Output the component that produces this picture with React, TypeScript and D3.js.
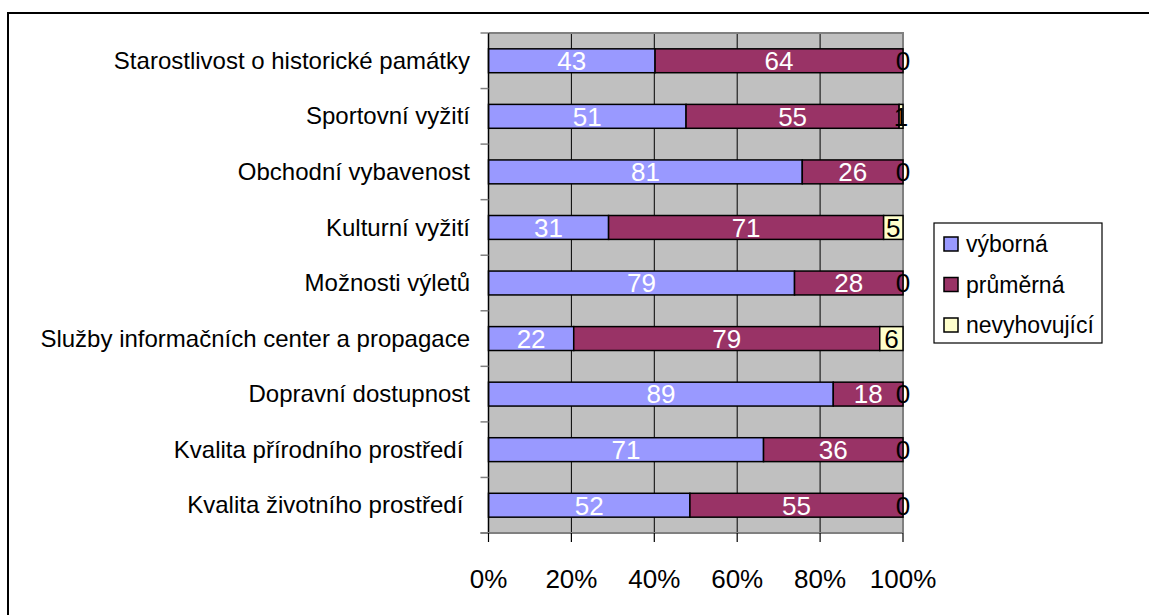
import React, { useEffect, useRef } from 'react'
import * as d3 from 'd3'

const categories = [
  'Starostlivost o historické památky',
  'Sportovní vyžití',
  'Obchodní vybavenost',
  'Kulturní vyžití',
  'Možnosti výletů',
  'Služby informačních center a propagace',
  'Dopravní dostupnost',
  'Kvalita přírodního prostředí ',
  'Kvalita životního prostředí ',
]
const seriesNames = ['výborná', 'průměrná', 'nevyhovující']
const vyborna = [43, 51, 81, 31, 79, 22, 89, 71, 52]
const prumerna = [64, 55, 26, 71, 28, 79, 18, 36, 55]
const nevyhovujici = [0, 1, 0, 5, 0, 6, 0, 0, 0]
const xTicks = [0, 0.2, 0.4, 0.6, 0.8, 1]

const colors = ['#9999FF', '#993366', '#FFFFCC']
const labelColors = ['#ffffff', '#ffffff', '#000000']
const font = "'Liberation Sans', Arial, sans-serif"

export default function App() {
  const ref = useRef<SVGSVGElement>(null)

  useEffect(() => {
    const svg = d3.select(ref.current)
    svg.selectAll('*').remove()

    const left = 488.5, right = 903, top = 33, bottom = 533

    // outer chart frame (cut off on the right / bottom)
    svg.append('rect')
      .attr('x', 8).attr('y', 13).attr('width', 1160).attr('height', 620)
      .attr('fill', '#fff').attr('stroke', '#000').attr('stroke-width', 2)

    const x = d3.scaleLinear().domain([0, 1]).range([left, right])
    const y = d3.scaleBand<string>().domain(categories).range([top, bottom])
      .paddingInner(0.57).paddingOuter(0.285)

    // plot area
    svg.append('rect')
      .attr('x', left).attr('y', top).attr('width', right - left).attr('height', bottom - top)
      .attr('fill', '#C0C0C0')

    // gridlines
    svg.append('g').selectAll('line')
      .data(xTicks.slice(1, -1))
      .enter().append('line')
      .attr('x1', d => x(d)).attr('x2', d => x(d))
      .attr('y1', top).attr('y2', bottom)
      .attr('stroke', '#000').attr('stroke-width', 1)

    // plot border top / right
    svg.append('path')
      .attr('d', `M${left},${top}H${right}V${bottom}`)
      .attr('fill', 'none').attr('stroke', '#808080').attr('stroke-width', 2)

    const series = [vyborna, prumerna, nevyhovujici]
    const rows = categories.map((c, i) => {
      const total = series.reduce((s, arr) => s + arr[i], 0)
      let acc = 0
      return series.map((arr, k) => {
        const start = acc / total
        acc += arr[i]
        return { cat: c, k, v: arr[i], x0: start, x1: acc / total }
      })
    })

    const bars = svg.append('g')
    rows.forEach(r => {
      bars.selectAll(null)
        .data(r.filter(d => d.v > 0))
        .enter().append('rect')
        .attr('x', d => x(d.x0))
        .attr('width', d => x(d.x1) - x(d.x0))
        .attr('y', d => y(d.cat)!)
        .attr('height', y.bandwidth())
        .attr('fill', d => colors[d.k])
        .attr('stroke', '#000').attr('stroke-width', 1.5)
    })

    // data labels
    rows.forEach(r => {
      bars.selectAll(null)
        .data(r)
        .enter().append('text')
        .attr('x', d => (x(d.x0) + x(d.x1)) / 2)
        .attr('y', d => y(d.cat)! + y.bandwidth() / 2)
        .attr('dy', '0.36em')
        .attr('text-anchor', 'middle')
        .attr('font-family', font).attr('font-size', 26)
        .attr('fill', d => labelColors[d.k])
        .text(d => d.v)
    })

    // category axis
    const yAxis = svg.append('g')
    yAxis.append('line')
      .attr('x1', left).attr('x2', left).attr('y1', top).attr('y2', bottom)
      .attr('stroke', '#000').attr('stroke-width', 1.5)
    yAxis.selectAll('line.tick')
      .data(d3.range(categories.length + 1))
      .enter().append('line').attr('class', 'tick')
      .attr('x1', left - 8).attr('x2', left)
      .attr('y1', i => top + i * y.step()).attr('y2', i => top + i * y.step())
      .attr('stroke', '#808080').attr('stroke-width', 1.5)
    yAxis.selectAll('text')
      .data(categories)
      .enter().append('text')
      .attr('x', 470)
      .attr('y', d => y(d)! + y.bandwidth() / 2)
      .attr('dy', '0.34em')
      .attr('text-anchor', 'end')
      .attr('font-family', font).attr('font-size', 24)
      .attr('fill', '#000')
      .style('white-space', 'pre')
      .text(d => d)

    // value axis
    const xAxis = svg.append('g')
    xAxis.append('line')
      .attr('x1', left - 8).attr('x2', right).attr('y1', bottom).attr('y2', bottom)
      .attr('stroke', '#808080').attr('stroke-width', 2)
    xAxis.selectAll('line.tick')
      .data(xTicks)
      .enter().append('line').attr('class', 'tick')
      .attr('x1', d => x(d)).attr('x2', d => x(d))
      .attr('y1', bottom).attr('y2', bottom + 9)
      .attr('stroke', '#000').attr('stroke-width', 1.2)
    xAxis.selectAll('text')
      .data(xTicks)
      .enter().append('text')
      .attr('x', d => x(d)).attr('y', 588)
      .attr('text-anchor', 'middle')
      .attr('font-family', font).attr('font-size', 26)
      .attr('fill', '#000')
      .text(d3.format('.0%'))

    // legend
    const lg = svg.append('g').attr('transform', 'translate(934,223)')
    lg.append('rect').attr('width', 168).attr('height', 120)
      .attr('fill', '#fff').attr('stroke', '#000').attr('stroke-width', 1.2)
    const item = lg.selectAll('g.item')
      .data(seriesNames)
      .enter().append('g').attr('class', 'item')
      .attr('transform', (d, i) => `translate(10,${21 + i * 40.5})`)
    item.append('rect')
      .attr('x', 0).attr('y', -7).attr('width', 14).attr('height', 14)
      .attr('fill', (d, i) => colors[i]).attr('stroke', '#000').attr('stroke-width', 1.5)
    item.append('text')
      .attr('x', 22).attr('dy', '0.36em')
      .attr('font-family', font).attr('font-size', 23)
      .attr('fill', '#000')
      .text(d => d)
  }, [])

  return (
    <svg ref={ref} width={1149} height={615}
      style={{ position: 'absolute', left: 0, top: 0, background: '#fff' }} />
  )
}
